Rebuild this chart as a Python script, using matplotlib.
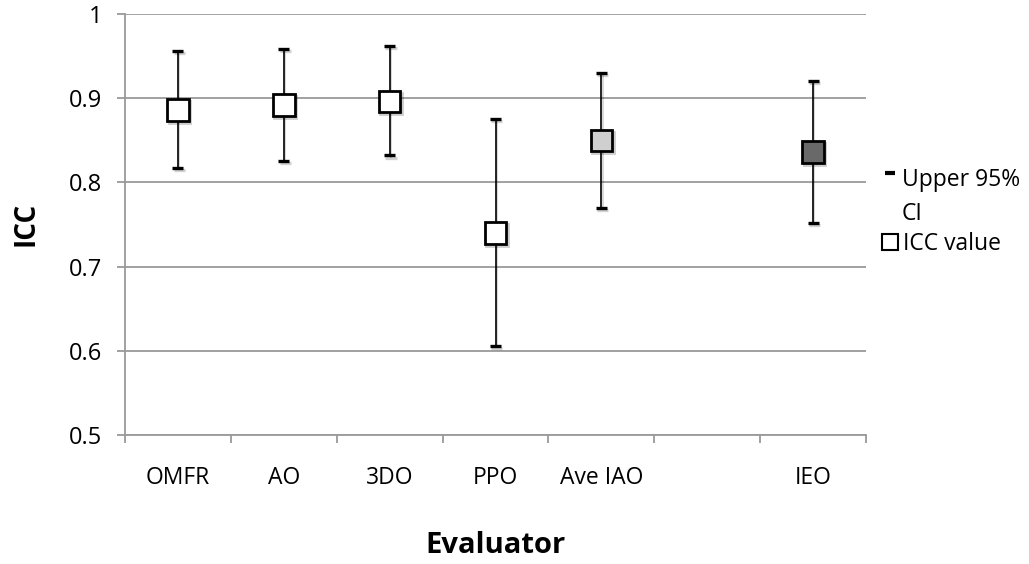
import numpy as np
import matplotlib
matplotlib.use("Agg")
import matplotlib.pyplot as plt
from matplotlib.lines import Line2D
import matplotlib.patheffects as pe

plt.rcParams['font.family'] = ['Open Sans', 'DejaVu Sans']

categories = ["OMFR", "AO", "3DO", "PPO", "Ave IAO", "", "IEO"]
icc_value = [0.886, 0.892, 0.896, 0.740, 0.850, np.nan, 0.836]
lower_95 = [0.817, 0.825, 0.832, 0.606, 0.770, np.nan, 0.752]
upper_95 = [0.956, 0.959, 0.962, 0.875, 0.930, np.nan, 0.920]
fill_colors = ["white", "white", "white", "white", "#cfcfcf", "white", "#696969"]
y_ticks = [0.5, 0.6, 0.7, 0.8, 0.9, 1.0]
y_tick_labels = ["0.5", "0.6", "0.7", "0.8", "0.9", "1"]

GRAY = "#9a9a9a"
W, H = 1029, 564

fig = plt.figure(figsize=(W/100, H/100), dpi=100)
ax = fig.add_axes([125/W, 1-435/H, (866-125)/W, (435-14)/H])

x = np.arange(len(categories))
icc = np.array(icc_value)
lo = np.array(lower_95)
hi = np.array(upper_95)

shadow_line = [pe.SimpleLineShadow(offset=(1.0, -1.5), alpha=0.18, shadow_color="black"), pe.Normal()]

for i in range(len(categories)):
    if np.isnan(icc[i]):
        continue
    eb = ax.errorbar(x[i], icc[i], yerr=[[icc[i]-lo[i]], [hi[i]-icc[i]]],
                     fmt='none', ecolor='black', elinewidth=1.2,
                     capsize=4.0, capthick=2.4, zorder=3)
    for art in eb.lines[1]:
        art.set_path_effects(shadow_line)
    for art in eb.lines[2]:
        art.set_path_effects(shadow_line)
    m, = ax.plot(x[i], icc[i], marker='s', markersize=15.5, markerfacecolor=fill_colors[i],
                 markeredgecolor='black', markeredgewidth=2.0, linestyle='none', zorder=4)
    m.set_path_effects([pe.SimpleLineShadow(offset=(1.0, -1.5), alpha=0.2, shadow_color="black"), pe.Normal()])

ax.set_xlim(-0.5, len(categories)-0.5)
ax.set_ylim(0.5, 1.0)
ax.set_yticks(y_ticks)
ax.set_yticklabels(y_tick_labels)
ax.yaxis.grid(True, color=GRAY, linewidth=1.3)
ax.set_axisbelow(True)

ax.set_xticks(np.arange(len(categories)+1) - 0.5)
ax.set_xticklabels([])
ax.set_xticks(x, minor=True)
ax.set_xticklabels(categories, minor=True)
ax.tick_params(axis='x', which='major', direction='out', length=5.5, width=1.3, color=GRAY)
ax.tick_params(axis='x', which='minor', length=0, pad=22, labelsize=16.5)
ax.tick_params(axis='y', which='major', direction='out', length=5.5, width=1.3, color=GRAY,
               pad=11, labelsize=17)

for s in ['top', 'right']:
    ax.spines[s].set_visible(False)
for s in ['left', 'bottom']:
    ax.spines[s].set_color(GRAY)
    ax.spines[s].set_linewidth(1.3)

fig.text(26/W, 1-224/H, "ICC", rotation=90, ha='center', va='center',
         fontsize=20, fontweight='bold')
fig.text(495/W, 1-553/H, "Evaluator", ha='center', va='baseline',
         fontsize=21, fontweight='bold')

# legend
fig.add_artist(Line2D([890/W], [1-172.5/H], marker='_', markersize=7.5, markeredgewidth=3.0,
                      color='black', linestyle='none'))
fig.text(902/W, 1-186/H, "Upper 95%", ha='left', va='baseline', fontsize=16.5)
fig.text(902/W, 1-220.5/H, "CI", ha='left', va='baseline', fontsize=16.5)
fig.add_artist(Line2D([890/W], [1-242/H], marker='s', markersize=12, markerfacecolor='white',
                      markeredgecolor='black', markeredgewidth=1.5, linestyle='none'))
fig.text(903/W, 1-250/H, "ICC value", ha='left', va='baseline', fontsize=16.5)

fig.savefig("out.png", dpi=100, facecolor='white')
